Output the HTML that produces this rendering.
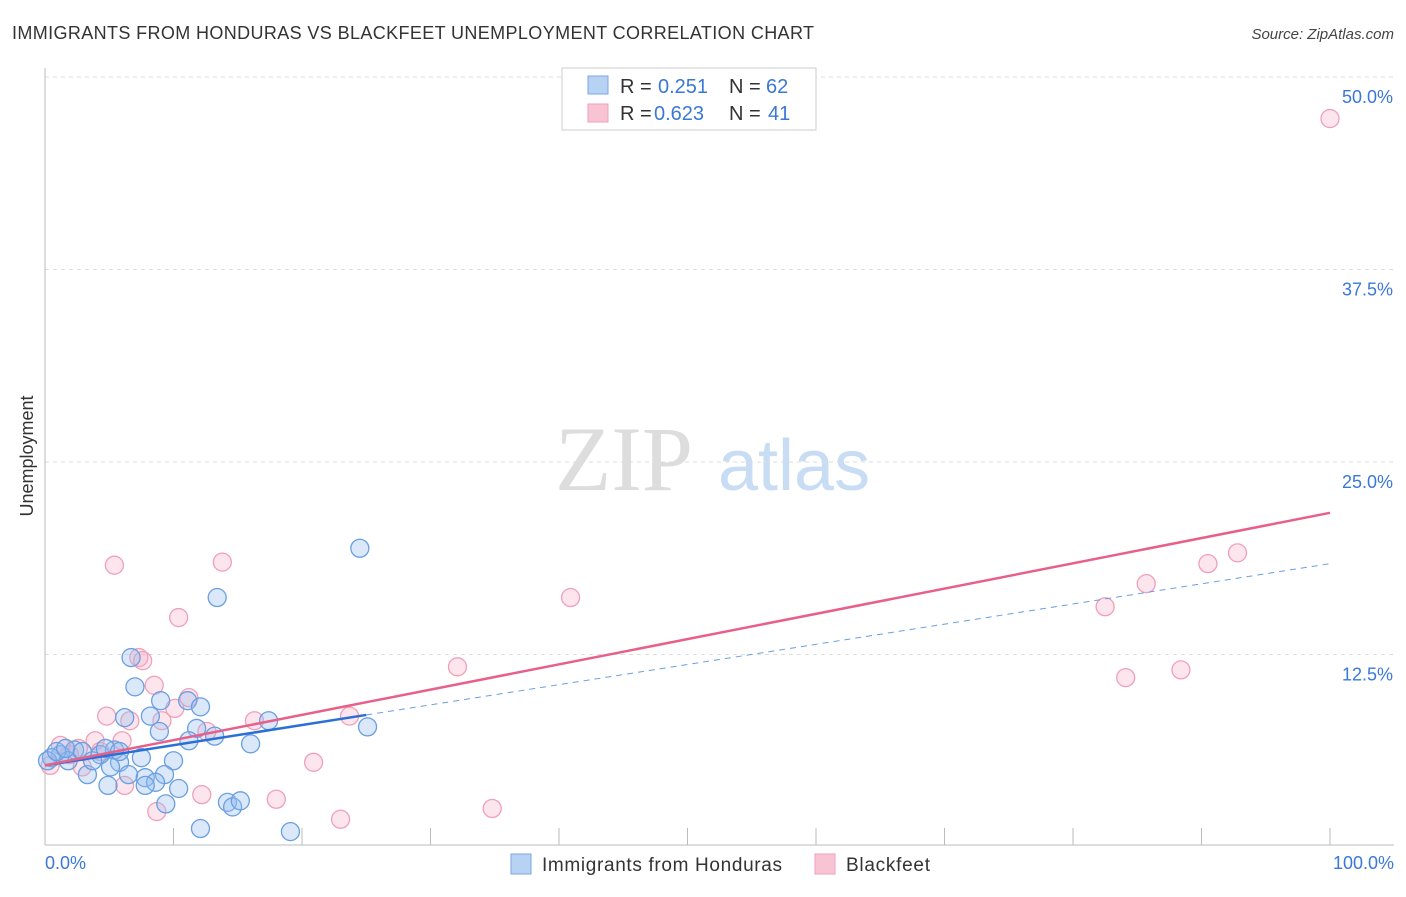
<!DOCTYPE html>
<html><head><meta charset="utf-8"><style>
body{margin:0;background:#fff;font-family:"Liberation Sans",sans-serif}
</style></head><body>
<svg width="1406" height="892" xmlns="http://www.w3.org/2000/svg" font-family="Liberation Sans, sans-serif">
<text x="12" y="39" font-size="18" fill="#333" textLength="802">IMMIGRANTS FROM HONDURAS VS BLACKFEET UNEMPLOYMENT CORRELATION CHART</text>
<text x="1394" y="39" font-size="15" fill="#444" text-anchor="end" font-style="italic">Source: ZipAtlas.com</text>
<text x="555" y="490" font-size="92" fill="#ddd" font-family="Liberation Serif, serif">ZIP</text>
<text x="718" y="490" font-size="72" fill="#c8dcf4">atlas</text>
<g id="grid"></g>
<line x1="45" y1="68" x2="45" y2="845" stroke="#bbb"/>
<line x1="45" y1="845" x2="1394" y2="845" stroke="#bbb"/>
<g id="ticks"></g>
<text transform="translate(33,456) rotate(-90)" font-size="18" fill="#333" text-anchor="middle">Unemployment</text>
<text x="45" y="869" font-size="18" fill="#3a78d8">0.0%</text>
<text x="1394" y="869" font-size="18" fill="#3a78d8" text-anchor="end">100.0%</text>
<g id="pts"></g>
<g id="lines"></g>
<g>
<rect x="562" y="68" width="254" height="62" fill="#fff" stroke="#ccc"/>
<rect x="588" y="76" width="20" height="18" fill="#b8d2f4" stroke="#7aa6e0"/>
<rect x="588" y="104" width="20" height="18" fill="#f8c4d4" stroke="#eea0b8"/>
<text x="620" y="93" font-size="20" fill="#333">R = </text><text x="658" y="93" font-size="20" fill="#3a78d8">0.251</text>
<text x="729" y="93" font-size="20" fill="#333">N = </text><text x="766" y="93" font-size="20" fill="#3a78d8">62</text>
<text x="620" y="120" font-size="20" fill="#333">R = </text><text x="654" y="120" font-size="20" fill="#3a78d8">0.623</text>
<text x="729" y="120" font-size="20" fill="#333">N = </text><text x="768" y="120" font-size="20" fill="#3a78d8">41</text>
</g>
<g>
<rect x="511" y="854" width="20" height="20" fill="#b8d2f4" stroke="#7aa6e0"/>
<text x="542" y="871" font-size="19" fill="#333" textLength="240">Immigrants from Honduras</text>
<rect x="815" y="854" width="20" height="20" fill="#f8c4d4" stroke="#eea0b8"/>
<text x="846" y="871" font-size="19" fill="#333" textLength="84">Blackfeet</text>
</g>
</svg>
<script>
const yTicks=[12.5,25,37.5,50];
const yTickLabels=["12.5%","25.0%","37.5%","50.0%"];
const xTicks=[0,10,20,30,40,50,60,70,80,90,100];
const blueX=[24.5,13.4,6.7,7.0,6.2,8.2,9.0,11.1,12.1,11.8,11.2,13.2,8.9,17.4,25.1,16.0,7.5,10.0,5.8,5.1,6.5,7.8,9.3,8.6,10.4,4.9,7.8,9.4,14.2,14.6,15.2,12.1,19.1,3.3,4.3,5.4,2.3,1.2,0.5,0.2,1.8,2.9,3.7,4.7,5.8,0.9,1.6];
const blueY=[19.4,16.2,12.3,10.4,8.4,8.5,9.5,9.5,9.1,7.7,6.9,7.2,7.5,8.2,7.8,6.7,5.8,5.6,5.5,5.2,4.7,4.5,4.7,4.2,3.8,4.0,4.0,2.8,2.9,2.6,3.0,1.2,1.0,4.7,6.0,6.3,6.3,6.0,5.8,5.6,5.6,6.2,5.6,6.4,6.2,6.2,6.4];
const pinkX=[100,92.8,90.5,85.7,82.5,88.4,84.1,40.9,32.1,34.8,23.0,20.9,18.0,16.3,23.7,13.8,5.4,10.4,7.3,7.6,8.5,11.2,4.8,6.6,9.1,10.1,12.6,6.0,3.9,1.2,2.6,6.2,8.7,12.2,2.9,0.4,4.3,1.9];
const pinkY=[47.3,19.1,18.4,17.1,15.6,11.5,11.0,16.2,11.7,2.5,1.8,5.5,3.1,8.2,8.5,18.5,18.3,14.9,12.3,12.1,10.5,9.7,8.5,8.2,8.2,9.0,7.5,6.9,6.9,6.6,6.4,4.0,2.3,3.4,5.2,5.3,6.2,6.0];
const blueTrend=[5.3,18.4], pinkTrend=[5.3,21.7];
const sx=v=>45+v*12.85, sy=v=>847-v*15.4;
const NS="http://www.w3.org/2000/svg";
function mk(t,a,p){const e=document.createElementNS(NS,t);for(const k in a)e.setAttribute(k,a[k]);p.appendChild(e);return e;}
const grid=document.getElementById('grid');
yTicks.forEach((v,i)=>{
 const l=mk('line',{x1:45,x2:1394,y1:sy(v),y2:sy(v),stroke:'#ddd','stroke-dasharray':'4,4'},grid);
 
 
 const t=mk('text',{x:1393,y:sy(v)+26,'font-size':18,fill:'#3a78d8','text-anchor':'end'},grid);
 t.textContent=yTickLabels[i];
 
 
});
const ticks=document.getElementById('ticks');
xTicks.forEach(v=>{
 const l=mk('line',{x1:sx(v),x2:sx(v),y1:828,y2:845,stroke:'#bbb'},ticks);
 
 
});
const pts=document.getElementById('pts');
pinkX.forEach((x,i)=>{
 const c=mk('circle',{cx:sx(x),cy:sy(pinkY[i]),r:9,fill:'rgba(245,170,195,0.3)',stroke:'#f0a0b8','stroke-width':1.3},pts);
 
 
});
blueX.forEach((x,i)=>{
 const c=mk('circle',{cx:sx(x),cy:sy(blueY[i]),r:9,fill:'rgba(150,190,240,0.35)',stroke:'#6a9fe0','stroke-width':1.3},pts);
 
 
});
const lines=document.getElementById('lines');
const bAt=v=>blueTrend[0]+(blueTrend[1]-blueTrend[0])*v/100;
let l1=mk('line',{x1:sx(0),y1:sy(bAt(0)),x2:sx(25),y2:sy(bAt(25)),stroke:'#2a6fd6','stroke-width':2.5},lines);


let l2=mk('line',{x1:sx(25),y1:sy(bAt(25)),x2:sx(100),y2:sy(bAt(100)),stroke:'#6a9fe0','stroke-width':1,'stroke-dasharray':'6,5'},lines);


let l3=mk('line',{x1:sx(0),y1:sy(pinkTrend[0]),x2:sx(100),y2:sy(pinkTrend[1]),stroke:'#e8608a','stroke-width':2.5},lines);


</script>
</body></html>
